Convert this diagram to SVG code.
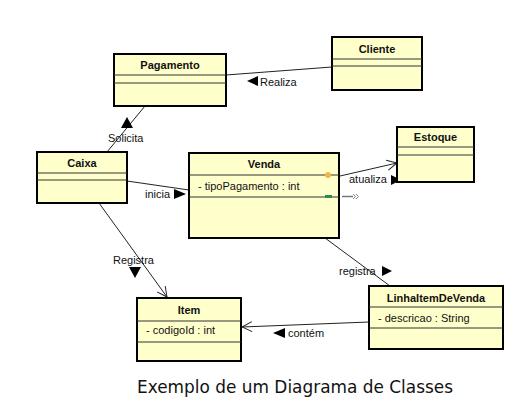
<svg xmlns="http://www.w3.org/2000/svg" width="526" height="408" viewBox="0 0 526 408">
<defs>
<style>
.box{fill:#FFFFCC;stroke:#000;stroke-width:2}
.sep{stroke:#333;stroke-width:1}
.title{font-family:"Liberation Sans",Arial,sans-serif;font-size:11px;font-weight:bold;fill:#111;text-anchor:middle}
.attr{font-family:"Liberation Sans",Arial,sans-serif;font-size:11px;fill:#111}
.lbl{font-family:"Liberation Sans",Arial,sans-serif;font-size:11px;fill:#111}
.conn{stroke:#222;stroke-width:1;fill:none}
.tri{fill:#000}
.cap{font-family:"DejaVu Sans",Verdana,sans-serif;font-size:17px;fill:#111}
</style>
<marker id="open" viewBox="0 0 12 12" refX="11" refY="6" markerWidth="12" markerHeight="12" markerUnits="userSpaceOnUse" orient="auto">
<polyline points="1,1 11,6 1,11" fill="none" stroke="#222" stroke-width="1"/>
</marker>
</defs>
<rect width="526" height="408" fill="#fff"/>
<g id="connectors">
<line class="conn" x1="226" y1="75" x2="332" y2="67"/>
<polygon class="tri" points="247,81 258,76 258,86"/>
<text class="lbl" x="260" y="86">Realiza</text>
<line class="conn" x1="145" y1="106" x2="107" y2="152"/>
<polygon class="tri" points="127,117 121,128 133,128"/>
<text class="lbl" x="108" y="142">Solicita</text>
<line class="conn" x1="127" y1="181" x2="189" y2="190"/>
<polygon class="tri" points="174,189 174,199 186,194"/>
<text class="lbl" x="145" y="198">inicia</text>
<line class="conn" x1="340" y1="176" x2="397" y2="163" marker-end="url(#open)"/>
<polygon class="tri" points="391,175 391,185 401,180"/>
<text class="lbl" x="349" y="183">atualiza</text>
<line x1="342" y1="196.5" x2="353" y2="196.5" stroke="#777" stroke-width="1.5"/>
<polyline points="353,194 355.5,196.5 353,199" fill="none" stroke="#888" stroke-width="1"/>
<polyline points="356,194 358.5,196.5 356,199" fill="none" stroke="#888" stroke-width="1"/>
<line class="conn" x1="325" y1="238" x2="390" y2="286"/>
<polygon class="tri" points="382,266 382,276 392,271"/>
<text class="lbl" x="339" y="275">registra</text>
<line class="conn" x1="99" y1="203" x2="167" y2="297" marker-end="url(#open)"/>
<polygon class="tri" points="129,267 141,267 135,278"/>
<text class="lbl" x="113" y="264">Registra</text>
<line class="conn" x1="369" y1="322" x2="242" y2="327" marker-end="url(#open)"/>
<polygon class="tri" points="273,333 285,328 285,338"/>
<text class="lbl" x="288" y="337">contém</text>
</g>
<g id="Pagamento">
<rect class="box" x="114" y="54" width="112" height="52"/>
<line class="sep" x1="114" y1="75" x2="226" y2="75"/>
<line class="sep" x1="114" y1="83" x2="226" y2="83"/>
<text class="title" x="170" y="69">Pagamento</text>
</g>
<g id="Cliente">
<rect class="box" x="332" y="37" width="90" height="53"/>
<line class="sep" x1="332" y1="59" x2="422" y2="59"/>
<line class="sep" x1="332" y1="66" x2="422" y2="66"/>
<text class="title" x="377" y="53">Cliente</text>
</g>
<g id="Caixa">
<rect class="box" x="37" y="152" width="90" height="51"/>
<line class="sep" x1="37" y1="173" x2="127" y2="173"/>
<line class="sep" x1="37" y1="180" x2="127" y2="180"/>
<text class="title" x="82" y="167">Caixa</text>
</g>
<g id="Venda">
<rect class="box" x="189" y="153" width="150" height="85"/>
<line class="sep" x1="189" y1="175" x2="339" y2="175"/>
<line class="sep" x1="189" y1="197" x2="339" y2="197"/>
<text class="title" x="264" y="168">Venda</text>
<text class="attr" x="198" y="190">- tipoPagamento : int</text>
<circle cx="328" cy="175" r="3" fill="#F4B740"/>
<rect x="325" y="195" width="7" height="3" fill="#2E8B57"/>
</g>
<g id="Estoque">
<rect class="box" x="397" y="127" width="77" height="55"/>
<line class="sep" x1="397" y1="147" x2="474" y2="147"/>
<line class="sep" x1="397" y1="155" x2="474" y2="155"/>
<text class="title" x="435.5" y="141">Estoque</text>
</g>
<g id="Item">
<rect class="box" x="137" y="298" width="104" height="63"/>
<line class="sep" x1="137" y1="321" x2="241" y2="321"/>
<line class="sep" x1="137" y1="342" x2="241" y2="342"/>
<text class="title" x="189" y="314">Item</text>
<text class="attr" x="146" y="334">- codigoId : int</text>
</g>
<g id="LinhaItemDeVenda">
<rect class="box" x="369" y="286" width="134" height="63"/>
<line class="sep" x1="369" y1="307" x2="503" y2="307"/>
<line class="sep" x1="369" y1="328" x2="503" y2="328"/>
<text class="title" x="436" y="302">LinhaItemDeVenda</text>
<text class="attr" x="378" y="322">- descricao : String</text>
</g>
<text class="cap" x="137" y="393" textLength="316" lengthAdjust="spacingAndGlyphs">Exemplo de um Diagrama de Classes</text>
</svg>
